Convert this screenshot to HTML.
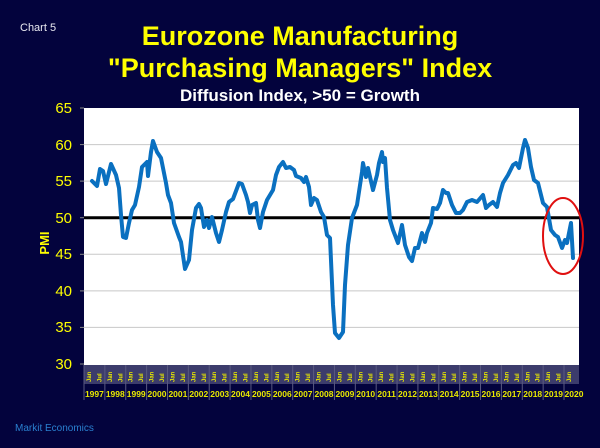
<!DOCTYPE html>
<html><head><meta charset="utf-8"><style>
html,body{margin:0;padding:0;background:#03033d;}
svg{display:block;font-family:"Liberation Sans",sans-serif;}
</style></head><body>
<svg width="600" height="448" viewBox="0 0 600 448" xmlns="http://www.w3.org/2000/svg">
<defs>
<g id="yr">
<line x1="0" x2="0" y1="365" y2="400" stroke="#5a5a80" stroke-width="1"/>
<text transform="translate(7,382) rotate(-90)" font-size="6" font-weight="bold" fill="#e8e800">Jan</text>
<text transform="translate(17.4,382) rotate(-90)" font-size="6" font-weight="bold" fill="#e8e800">Jul</text>
</g>
</defs>
<rect width="600" height="448" fill="#03033d"/>
<text x="20" y="31" font-size="11" fill="#e8e8f0">Chart 5</text>
<text x="300" y="45" font-size="27" font-weight="bold" fill="#ffff00" text-anchor="middle">Eurozone Manufacturing</text>
<text x="300" y="77" font-size="27" font-weight="bold" fill="#ffff00" text-anchor="middle">"Purchasing Managers" Index</text>
<text x="300" y="101" font-size="17" font-weight="bold" fill="#ffffff" text-anchor="middle">Diffusion Index, &gt;50 = Growth</text>
<rect x="84" y="108" width="495" height="257" fill="#ffffff"/>
<g stroke="#c8c8c8" stroke-width="1">
<line x1="84" x2="579" y1="144.6" y2="144.6"/>
<line x1="84" x2="579" y1="181.1" y2="181.1"/>
<line x1="84" x2="579" y1="254.3" y2="254.3"/>
<line x1="84" x2="579" y1="290.9" y2="290.9"/>
<line x1="84" x2="579" y1="327.4" y2="327.4"/>
</g>
<g stroke="#888" stroke-width="1">
<line x1="80" x2="84" y1="108" y2="108"/><line x1="80" x2="84" y1="144.6" y2="144.6"/><line x1="80" x2="84" y1="181.1" y2="181.1"/><line x1="80" x2="84" y1="217.7" y2="217.7"/><line x1="80" x2="84" y1="254.3" y2="254.3"/><line x1="80" x2="84" y1="290.9" y2="290.9"/><line x1="80" x2="84" y1="327.4" y2="327.4"/><line x1="80" x2="84" y1="364" y2="364"/>
</g>
<g font-size="15" fill="#ffff00" text-anchor="end">
<text x="72" y="113">65</text><text x="72" y="150">60</text><text x="72" y="186">55</text><text x="72" y="223">50</text><text x="72" y="259">45</text><text x="72" y="296">40</text><text x="72" y="332">35</text><text x="72" y="369">30</text>
</g>
<text transform="translate(49,243) rotate(-90)" font-size="13" font-weight="bold" fill="#ffff00" text-anchor="middle">PMI</text>
<line x1="84" x2="579" y1="217.7" y2="217.7" stroke="#000" stroke-width="3"/>
<polyline fill="none" stroke="#0a70c0" stroke-width="4" stroke-linejoin="round" stroke-linecap="round" points="92,181 97,186 100,169 103,171 106,184 111,164 116,175 119,188 121,215 123,237 126,238 129,223 132,210 135,205 139,187 142,167 147,162 148,176 151,152 153,141 157,152 161,158 166,183 168,195 171,203 174,223 179,237 181,242 185,269 189,260 192,230 196,208 199,204 201,208 204,227 207,220 209,228 212,217 216,233 219,242 222,230 226,212 229,202 233,199 239,183 242,184 246,195 248,202 250,213 252,205 256,203 258,220 260,228 263,212 267,200 270,195 273,190 276,175 279,167 283,162 286,168 290,167 294,170 296,176 301,178 304,182 306,177 309,187 311,205 314,198 317,200 321,212 324,217 327,235 330,238 333,305 335,333 339,338 343,332 345,285 348,245 352,218 357,205 362,172 363,163 366,177 368,168 373,190 377,175 379,163 382,152 383,162 385,158 387,188 390,220 393,230 398,243 402,225 405,245 409,257 412,261 415,248 418,248 422,233 425,242 427,233 431,223 433,208 437,209 440,203 443,190 446,193 448,193 452,205 456,213 460,213 463,210 467,202 472,200 477,202 483,195 486,208 489,205 493,202 497,207 500,193 503,183 508,175 513,165 516,163 519,168 523,148 525,140 528,148 531,167 534,180 538,183 543,203 547,207 551,230 555,235 558,237 562,248 565,240 567,243 571,223 573,258"/>
<ellipse cx="563" cy="236" rx="20" ry="38" fill="none" stroke="#e01010" stroke-width="2"/>
<rect x="84" y="365" width="495" height="19" fill="#3c3c6c"/>
<use href="#yr" x="84"/><use href="#yr" x="104.87"/><use href="#yr" x="125.74"/><use href="#yr" x="146.61"/><use href="#yr" x="167.48"/><use href="#yr" x="188.35"/><use href="#yr" x="209.22"/><use href="#yr" x="230.09"/><use href="#yr" x="250.96"/><use href="#yr" x="271.83"/><use href="#yr" x="292.7"/><use href="#yr" x="313.57"/><use href="#yr" x="334.44"/><use href="#yr" x="355.31"/><use href="#yr" x="376.18"/><use href="#yr" x="397.05"/><use href="#yr" x="417.92"/><use href="#yr" x="438.79"/><use href="#yr" x="459.66"/><use href="#yr" x="480.53"/><use href="#yr" x="501.4"/><use href="#yr" x="522.27"/><use href="#yr" x="543.14"/>
<line x1="564" x2="564" y1="365" y2="400" stroke="#5a5a80"/>
<text transform="translate(571,382) rotate(-90)" font-size="6" font-weight="bold" fill="#e8e800">Jan</text>
<g font-size="8.5" font-weight="bold" fill="#e8e800" text-anchor="middle">
<text x="94.4" y="397">1997</text><text x="115.3" y="397">1998</text><text x="136.2" y="397">1999</text><text x="157" y="397">2000</text><text x="177.9" y="397">2001</text><text x="198.8" y="397">2002</text><text x="219.7" y="397">2003</text><text x="240.5" y="397">2004</text><text x="261.4" y="397">2005</text><text x="282.3" y="397">2006</text><text x="303.1" y="397">2007</text><text x="324" y="397">2008</text><text x="344.9" y="397">2009</text><text x="365.7" y="397">2010</text><text x="386.6" y="397">2011</text><text x="407.5" y="397">2012</text><text x="428.4" y="397">2013</text><text x="449.2" y="397">2014</text><text x="470.1" y="397">2015</text><text x="491" y="397">2016</text><text x="511.8" y="397">2017</text><text x="532.7" y="397">2018</text><text x="553.6" y="397">2019</text><text x="574" y="397">2020</text>
</g>
<text x="15" y="431" font-size="10" fill="#2a80d0">Markit Economics</text>
</svg>
</body></html>
